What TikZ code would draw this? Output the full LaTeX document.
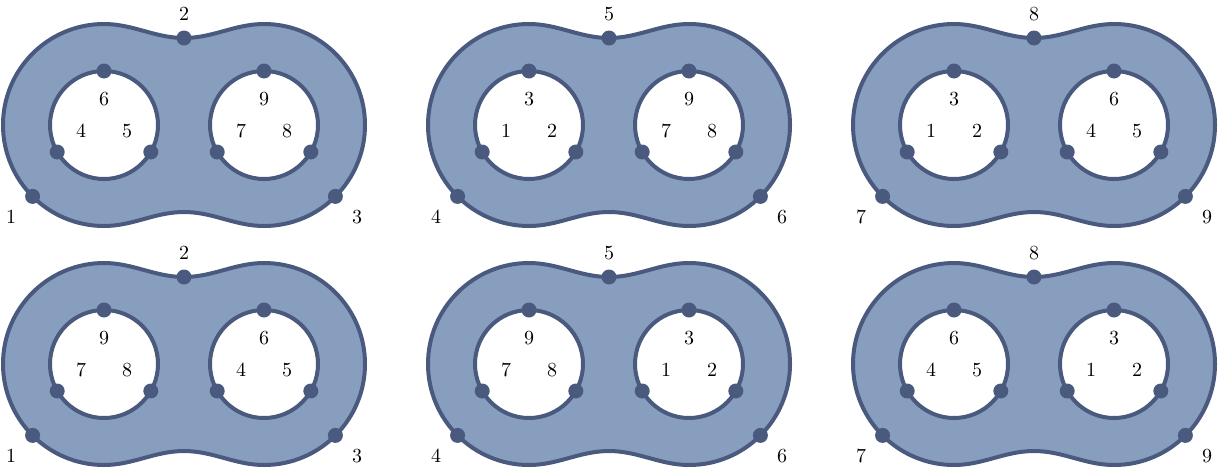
\documentclass[tikz,border=0pt]{standalone}
\usepackage{tikz}
\definecolor{surffill}{HTML}{889EBF}
\definecolor{surfline}{HTML}{4A5A7E}

\begin{document}
\begin{tikzpicture}[x=0.5pt,y=0.5pt,
    surf/.style={fill=surffill,draw=surfline,line width=2pt,even odd rule},
    bdot/.style={circle,fill=surfline,inner sep=0pt,minimum size=7.5pt},
    num/.style={inner sep=1pt}]
    \useasboundingbox (0,0) rectangle (1225,-472);
    \foreach \col/\row/\ls/\rs in {0/0/4/7,1/0/1/7,2/0/1/4,0/1/7/4,1/1/7/1,2/1/4/1}{
        \pgfmathtruncatemacro{\oa}{3*\col+1}
        \pgfmathtruncatemacro{\ob}{3*\col+2}
        \pgfmathtruncatemacro{\oc}{3*\col+3}
        \begin{scope}[shift={(184+425*\col,-125-239*\row)}]
            % surface with two holes
            \path[surf] (-181,0) arc[start angle=180,end angle=90,radius=101]
                .. controls (-51,101) and (-29,87) .. (0,87)
                .. controls (29,87) and (51,101) .. (80,101)
                arc[start angle=90,end angle=-90,radius=101]
                .. controls (51,-101) and (29,-87) .. (0,-87)
                .. controls (-29,-87) and (-51,-101) .. (-80,-101)
                arc[start angle=270,end angle=180,radius=101] -- cycle
                (-80,0) circle[radius=54] (80,0) circle[radius=54];
            % outer boundary points
            \node[bdot] (o1-\col\row) at (-151.4,-71.4) {};
            \node[bdot] (o2-\col\row) at (0,87) {};
            \node[bdot] (o3-\col\row) at (151.4,-71.4) {};
            \node[num] (n1-\col\row) at (-173,-92) {\oa};
            \node[num] (n2-\col\row) at (0,111) {\ob};
            \node[num] (n3-\col\row) at (173,-92) {\oc};
            % holes
            \foreach \lx/\s/\h in {-80/\ls/l,80/\rs/r}{
                \pgfmathtruncatemacro{\sb}{\s+1}
                \pgfmathtruncatemacro{\sc}{\s+2}
                \node[bdot] (\h a-\col\row) at (\lx-46.8,-27) {};
                \node[bdot] (\h b-\col\row) at (\lx+46.8,-27) {};
                \node[bdot] (\h c-\col\row) at (\lx,54) {};
                \node[num] (m\h a-\col\row) at (\lx-23,-6) {\s};
                \node[num] (m\h b-\col\row) at (\lx+23,-6) {\sb};
                \node[num] (m\h c-\col\row) at (\lx,26) {\sc};
            }
        \end{scope}
    }
\end{tikzpicture}
\end{document}
